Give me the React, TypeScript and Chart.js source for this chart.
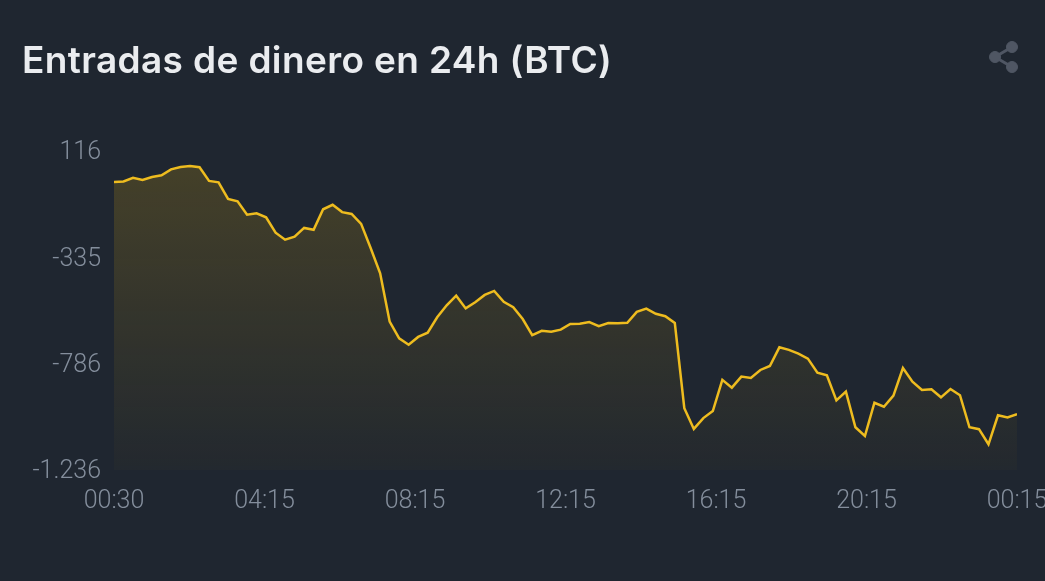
import React, { useEffect, useRef } from "react";
import { Chart, registerables } from "chart.js";

Chart.register(...registerables);

const titleText = "Entradas de dinero en 24h (BTC)";
const seriesName = "Entradas de dinero";
const inflow = [
  -15, -13, 2, -7, 6, 13, 38, 48, 52, 47, -11, -17, -87, -97, -154, -148,
  -165, -230, -260, -247, -210, -218, -131, -112, -143, -151, -193, -295, -402, -607, -678, -705,
  -672, -654, -589, -538, -497, -551, -525, -494, -477, -523, -546, -596, -664, -646, -650, -641,
  -617, -616, -609, -626, -613, -614, -612, -566, -552, -574, -584, -613, -974, -1062, -1016, -986,
  -854, -887, -840, -846, -812, -795, -716, -727, -743, -764, -824, -835, -941, -904, -1055, -1092,
  -951, -968, -921, -804, -862, -897, -894, -928, -893, -919, -1055, -1063, -1127, -1004, -1013, -999,
];
const xTickLabels = ["00:30", "04:15", "08:15", "12:15", "16:15", "20:15", "00:15"];
const yTickValues = [116, -335, -786, -1236];
const yTickLabels = ["116", "-335", "-786", "-1.236"];

const BG = "#1f2630";
const TICK = "#848e9c";
const TITLE_FONT = "Inter";
const TICK_FONT = "Roboto";

export default function App() {
  const ref = useRef<HTMLCanvasElement | null>(null);

  useEffect(() => {
    document.body.style.margin = "0";
    document.body.style.background = BG;
    document.body.style.overflow = "hidden";
    const canvas = ref.current;
    if (!canvas) return;
    const last = inflow.length - 1;
    const chart = new Chart(canvas, {
      type: "line",
      data: {
        datasets: [
          {
            label: seriesName,
            data: inflow.map((y, x) => ({ x, y })),
            borderColor: "#eebc1f",
            borderWidth: 2.5,
            pointRadius: 0,
            tension: 0,
            fill: "start",
            backgroundColor: (ctx: any) => {
              const area = ctx.chart.chartArea;
              if (!area) return "rgba(240,185,11,0.18)";
              const g = ctx.chart.ctx.createLinearGradient(0, area.top + 15, 0, area.bottom);
              g.addColorStop(0, "rgba(240,185,11,0.18)");
              g.addColorStop(1, "rgba(240,185,11,0.02)");
              return g;
            },
          },
        ],
      },
      options: {
        responsive: false,
        animation: false,
        devicePixelRatio: 1,
        layout: { padding: { left: 0, right: 28, top: 151, bottom: 0 } },
        plugins: { legend: { display: false }, tooltip: { enabled: false }, title: { display: false } },
        scales: {
          x: {
            type: "linear",
            min: 0,
            max: last,
            grid: { display: false, drawTicks: false },
            border: { display: false },
            afterBuildTicks: (s: any) => {
              s.ticks = xTickLabels.map((_, i) => ({ value: (last * i) / (xTickLabels.length - 1) }));
            },
            afterFit: (s: any) => {
              s.height = 111;
              s.paddingLeft = 0;
              s.paddingRight = 0;
            },
            ticks: {
              autoSkip: false,
              maxRotation: 0,
              minRotation: 0,
              padding: 17,
              color: TICK,
              font: { family: TICK_FONT, size: 25, weight: "300" },
              callback: (_v: any, i: number) => xTickLabels[i],
            },
          },
          y: {
            type: "linear",
            min: yTickValues[yTickValues.length - 1],
            max: yTickValues[0],
            grid: { display: false, drawTicks: false },
            border: { display: false },
            afterBuildTicks: (s: any) => {
              s.ticks = yTickValues.map((value) => ({ value }));
            },
            afterFit: (s: any) => {
              s.width = 114;
              s.paddingTop = 0;
              s.paddingBottom = 0;
            },
            ticks: {
              autoSkip: false,
              padding: 13,
              labelOffset: 2,
              color: TICK,
              font: { family: TICK_FONT, size: 25, weight: "300" },
              callback: (_v: any, i: number) => yTickLabels[i],
            },
          },
        },
      },
    } as any);
    return () => chart.destroy();
  }, []);

  return (
    <div style={{ position: "relative", width: 1045, height: 581, background: BG, overflow: "hidden" }}>
      <canvas ref={ref} width={1045} height={581} style={{ display: "block", position: "absolute", left: 0, top: 0 }} />
      <div
        style={{
          position: "absolute",
          left: 22,
          top: 37,
          fontFamily: TITLE_FONT,
          fontWeight: 600,
          fontSize: 37,
          letterSpacing: 0.37,
          lineHeight: "46px",
          color: "#eaecef",
          whiteSpace: "nowrap",
        }}
      >
        {titleText}
      </div>
      <svg style={{ position: "absolute", left: 985, top: 38 }} width={40} height={40} viewBox="0 0 40 40">
        <g fill="#4f5663" stroke="#4f5663">
          <path d="M27 9 L10 19 L27 29" fill="none" strokeWidth={3} />
          <circle cx={27} cy={9} r={5.5} />
          <circle cx={10} cy={19} r={5.5} />
          <circle cx={27} cy={29} r={5.5} />
        </g>
      </svg>
    </div>
  );
}
